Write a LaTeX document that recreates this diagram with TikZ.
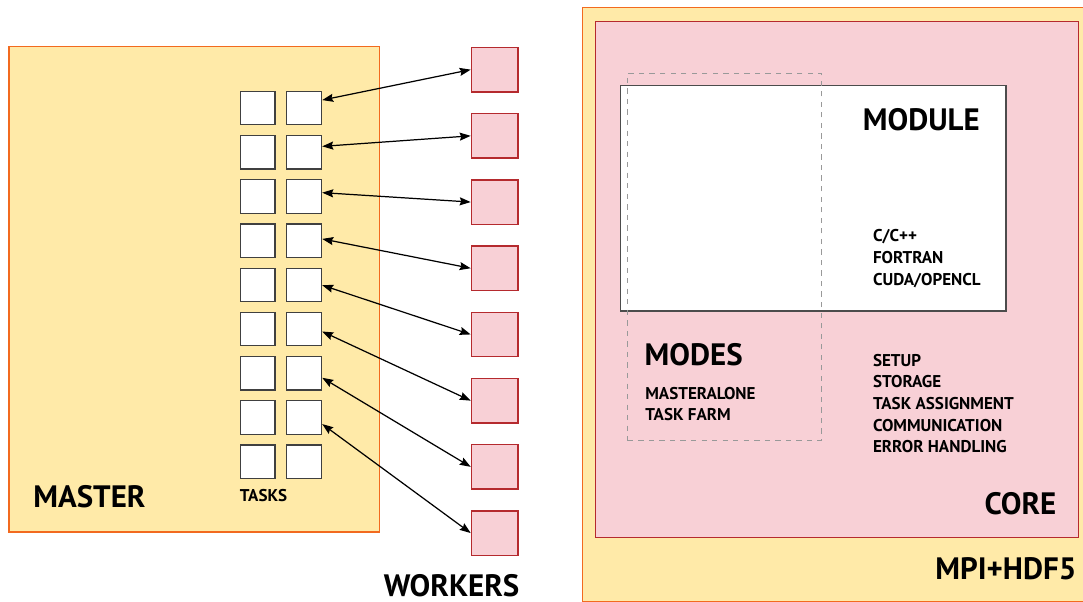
\documentclass[tikz,border=0pt]{standalone}
\usepackage{fontspec}
\setmainfont{PT Sans}
\usepackage{xcolor}
\usepackage{tikz}
\usetikzlibrary{positioning, arrows.meta, calc}

\definecolor{paleyellow}{HTML}{FFEAA8}
\definecolor{edgeorange}{HTML}{F26A1F}
\definecolor{palepink}{HTML}{F8D0D6}
\definecolor{edgered}{HTML}{B52A2E}

\begin{document}
\begin{tikzpicture}[
    x=0.02cm, y=-0.02cm,
    >={Stealth[length=2.2mm, width=1.6mm, inset=0.3mm]},
    task/.style={rectangle, draw=black!75, fill=white, line width=0.7pt,
        minimum width=0.70cm, minimum height=0.67cm, anchor=north west, inner sep=0pt},
    worker/.style={rectangle, draw=edgered, fill=palepink, line width=0.8pt,
        minimum width=0.93cm, minimum height=0.89cm, anchor=north west, inner sep=0pt},
    panel/.style={rectangle, anchor=north west, inner sep=0pt, line width=0.7pt},
    bigtext/.style={font=\fontsize{17.6}{20}\selectfont\bfseries, inner sep=0pt, anchor=base west},
    smalltext/.style={font=\fontsize{9.7}{12.3}\selectfont\bfseries, inner sep=0pt,
        anchor=base west, align=left}
]
    \useasboundingbox (0,0) rectangle (1083,602);

    % Master side
    \node[panel, draw=edgeorange, fill=paleyellow, minimum width=7.41cm, minimum height=9.71cm]
        (master) at (8.3,46) {};
    \node[bigtext] (masterlbl) at (33,507) {MASTER};

    % Task grid
    \foreach \i in {1,...,9} {
        \node[task] (t1-\i) at (239.5, {90.7+(\i-1)*44.2}) {};
        \node[task] (t2-\i) at (286,   {90.7+(\i-1)*44.2}) {};
    }
    \node[smalltext] (taskslbl) at (239.5,501.3) {TASKS};

    % Workers
    \foreach \i in {1,...,8} {
        \node[worker] (w\i) at (470.7, {46.7+(\i-1)*66.2}) {};
    }
    \node[bigtext] (workerslbl) at (383.5,596.5) {WORKERS};

    % Task <-> worker links
    \foreach \i in {1,...,8} {
        \pgfmathsetmacro{\f}{0.27+(\i-1)*0.06}
        \draw[<->, line width=0.7pt] ($(t2-\i.north east)!\f!(t2-\i.south east)$) -- (w\i.west);
    }

    % Framework side
    \node[panel, draw=edgeorange, fill=paleyellow, minimum width=10.3cm, minimum height=11.88cm]
        (mpi) at (581.7,6.7) {};
    \node[panel, draw=edgered, fill=palepink, minimum width=9.66cm, minimum height=10.32cm]
        (core) at (595,20.7) {};
    \node[panel, draw=black!70, fill=white, minimum width=7.72cm, minimum height=4.51cm]
        (module) at (619.5,85) {};
    \node[panel, draw=black!40, dashed, line width=0.5pt, minimum width=3.87cm, minimum height=7.35cm]
        (modes) at (627.3,72.7) {};

    % base anchor of a multi-line node sits on its last line
    \node[bigtext] (modulelbl) at (862.5,130.7) {MODULE};
    \node[smalltext] (langs) at (872.7,285) {C/C++\\FORTRAN\\CUDA/OPENCL};

    \node[bigtext] (modeslbl) at (644.3,365.7) {MODES};
    \node[smalltext] (modelist) at (645,420.7) {MASTERALONE\\TASK FARM};

    \node[smalltext] (corelist) at (872.7,452.7) {SETUP\\STORAGE\\TASK ASSIGNMENT\\COMMUNICATION\\ERROR HANDLING};

    \node[bigtext, anchor=base east] (corelbl) at (1056.7,514.3) {CORE};
    \node[bigtext, anchor=base east] (mpilbl) at (1076.7,579.3) {MPI+HDF5};
\end{tikzpicture}
\end{document}
